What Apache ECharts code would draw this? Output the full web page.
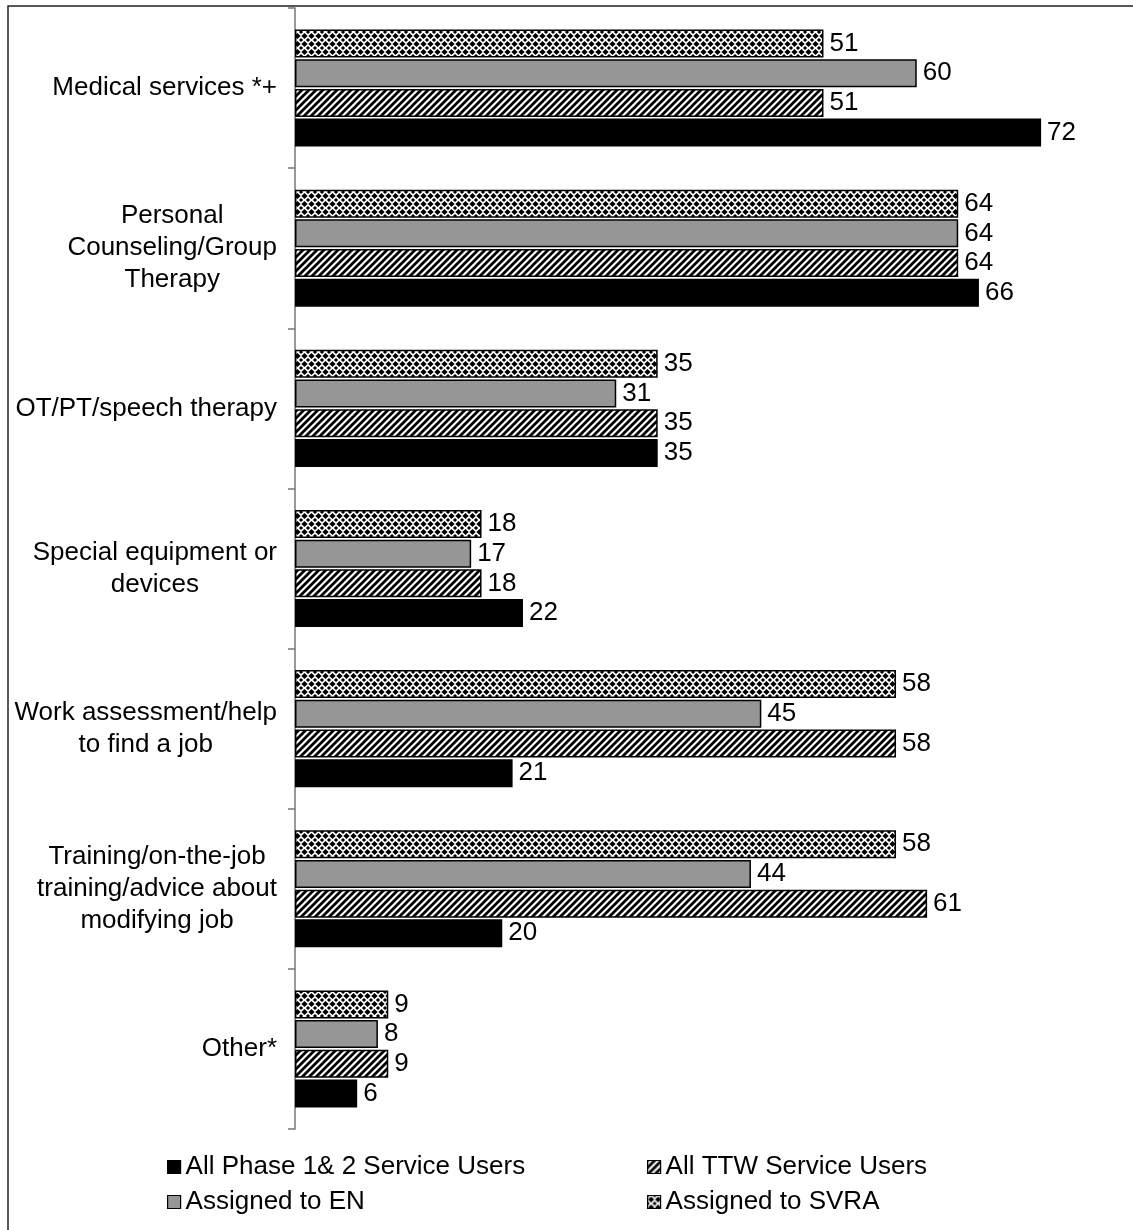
<!DOCTYPE html>
<html>
<head>
<meta charset="utf-8">
<script src="https://cdn.jsdelivr.net/npm/echarts@6/dist/echarts.min.js"></script>
<style>
html,body{margin:0;padding:0;background:#fff;}
#main{width:1133px;height:1230px;}
</style>
</head>
<body>
<div id="main"></div>
<script>
var categories = ['Medical services *+', 'Personal\nCounseling/Group\nTherapy', 'OT/PT/speech therapy',
	'Special equipment or\ndevices', 'Work assessment/help\nto find a job',
	'Training/on-the-job\ntraining/advice about\nmodifying job', 'Other*'];
var svraValues = [51, 64, 35, 18, 58, 58, 9];
var enValues = [60, 64, 31, 17, 45, 44, 8];
var ttwValues = [51, 64, 35, 18, 58, 61, 9];
var allValues = [72, 66, 35, 22, 21, 20, 6];
var seriesNames = ['All Phase 1& 2 Service Users', 'All TTW Service Users', 'Assigned to EN', 'Assigned to SVRA'];

var FONT = "'Liberation Sans', Arial, sans-serif";
var FS = 26;

// dotted pattern (SVRA)
var makeDots = function() {
	var c = document.createElement('canvas');
	c.width = 7; c.height = 8;
	var g = c.getContext('2d');
	g.fillStyle = '#fff';
	g.fillRect(0, 0, 7, 8);
	g.fillStyle = '#000';
	var diamond = function(x, y, r) {
		g.beginPath();
		g.moveTo(x, y - r); g.lineTo(x + r, y); g.lineTo(x, y + r); g.lineTo(x - r, y);
		g.closePath(); g.fill();
	};
	diamond(3.5, 4, 3.1);
	diamond(0, 0, 2.1); diamond(7, 0, 2.1); diamond(0, 8, 2.1); diamond(7, 8, 2.1);
	return c;
};
// diagonal hatch (TTW)
var makeHatch = function() {
	var c = document.createElement('canvas');
	c.width = 7; c.height = 7;
	var g = c.getContext('2d');
	g.fillStyle = '#fff';
	g.fillRect(0, 0, 7, 7);
	g.strokeStyle = '#000';
	g.lineWidth = 2.8;
	g.beginPath();
	g.moveTo(-1, 8); g.lineTo(8, -1);
	g.moveTo(-4.5, 4.5); g.lineTo(4.5, -4.5);
	g.moveTo(2.5, 11.5); g.lineTo(11.5, 2.5);
	g.stroke();
	return c;
};

var dotPattern = {image: makeDots(), repeat: 'repeat'};
var hatchPattern = {image: makeHatch(), repeat: 'repeat'};

var labelCfg = {
	show: true,
	position: 'right',
	distance: 6,
	color: '#000',
	fontSize: FS,
	fontFamily: FONT
};

var barSeries = function(name, data, color, border) {
	return {
		name: name,
		type: 'bar',
		data: data,
		barWidth: 28,
		barGap: '6%',
		itemStyle: {color: color, borderColor: '#000', borderWidth: border},
		label: labelCfg,
		emphasis: {disabled: true}
	};
};

var legendCfg = function(names, left) {
	return {
		data: names,
		orient: 'vertical',
		left: left,
		top: 1149,
		icon: 'rect',
		itemWidth: 13,
		itemHeight: 13,
		itemGap: 9,
		itemStyle: {borderColor: '#000', borderWidth: 1.2},
		textStyle: {fontSize: FS, fontFamily: FONT, color: '#000'}
	};
};

var myChart = echarts.init(document.getElementById('main'));
var option = {
	animation: false,
	backgroundColor: '#fff',
	grid: {left: 295, right: 9, top: 8, bottom: 101},
	legend: [legendCfg([seriesNames[0], seriesNames[2]], 162), legendCfg([seriesNames[1], seriesNames[3]], 642)],
	xAxis: {
		type: 'value',
		min: 0,
		max: 80,
		show: false
	},
	yAxis: {
		type: 'category',
		inverse: true,
		data: categories,
		axisLine: {show: true, lineStyle: {color: '#777', width: 1.5}},
		axisTick: {show: true, length: 7, lineStyle: {color: '#777', width: 1.5}},
		axisLabel: {
			margin: 18,
			align: 'right',
			formatter: function(v) {
				return v.split('\n').map(function(s) { return '{c|' + s + '}'; }).join('\n');
			},
			rich: {
				c: {align: 'center', fontSize: FS, lineHeight: 32, fontFamily: FONT, color: '#000'}
			}
		}
	},
	graphic: [{
		type: 'rect',
		shape: {x: 8, y: 6, width: 1200, height: 1300},
		style: {fill: 'none', stroke: '#222', lineWidth: 1.5},
		silent: true,
		z: -1
	}],
	series: [
		barSeries(seriesNames[3], svraValues, dotPattern, 1.5),
		barSeries(seriesNames[2], enValues, '#969696', 1.5),
		barSeries(seriesNames[1], ttwValues, hatchPattern, 1.5),
		barSeries(seriesNames[0], allValues, '#000', 0)
	]
};
myChart.setOption(option);
</script>
</body>
</html>
